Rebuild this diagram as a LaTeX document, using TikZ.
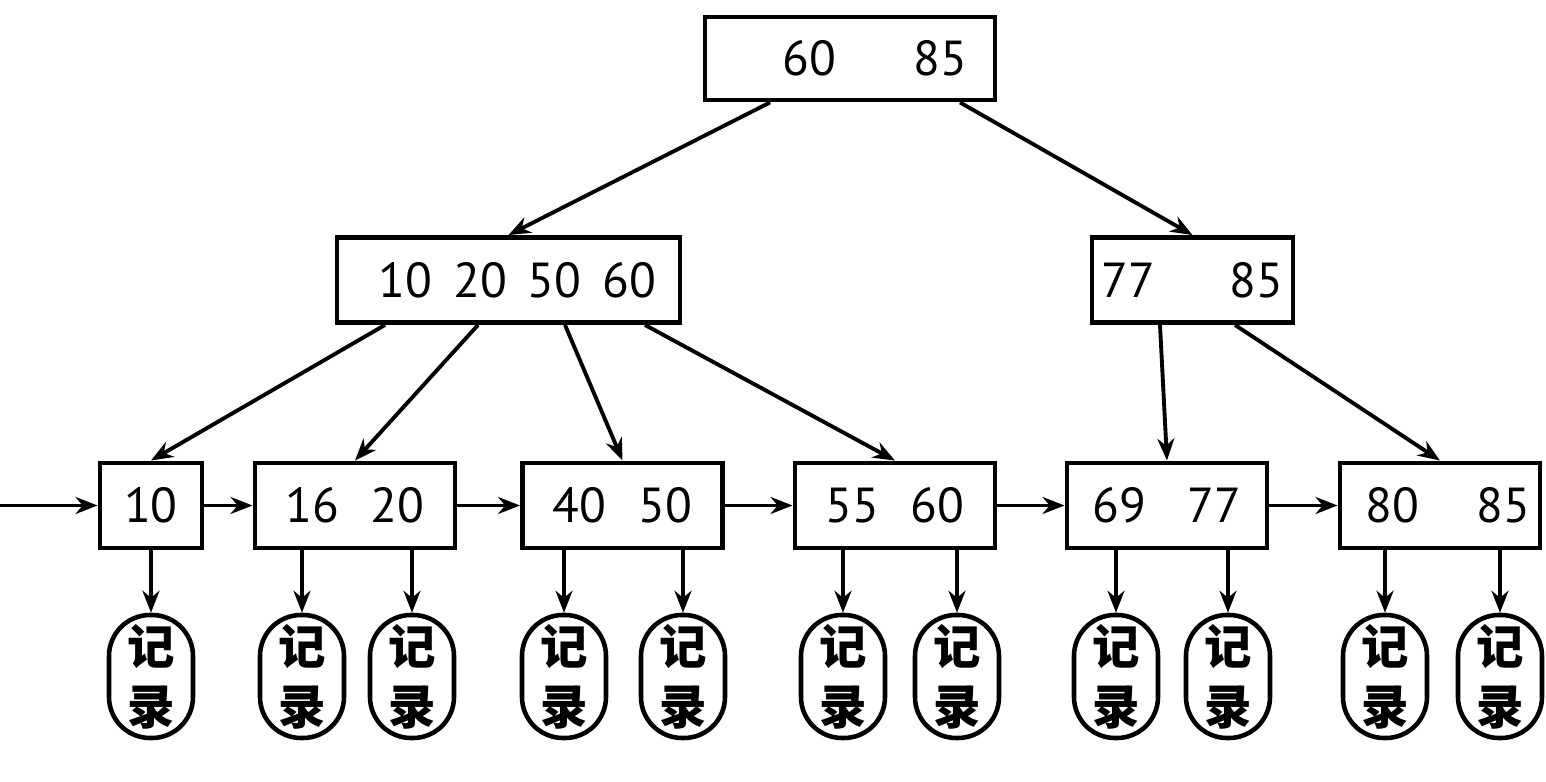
\documentclass[tikz,border=0pt]{standalone}
\usepackage{fontspec}
\setmainfont{PT Sans}
\newfontfamily\cjk{Noto Sans CJK SC}
\usetikzlibrary{positioning, calc, arrows.meta}

\begin{document}
\begin{tikzpicture}[
            key/.style={rectangle, draw, line width=1.4pt, minimum height=0.85cm, inner sep=0pt, font=\fontsize{14}{16}\selectfont},
            record/.style={rectangle, draw, line width=1.3pt, rounded corners=0.41cm, minimum width=0.84cm, minimum height=1.23cm, inner sep=0pt, align=center, font=\cjk\bfseries\fontsize{13.5}{17}\selectfont},
            link/.style={->, line width=1.1pt, >={Stealth[length=2.2mm, width=1.7mm]}}
        ]
            \useasboundingbox (0,0) rectangle (15.46,7.82);

            % --- Index Levels ---
            \node[key, minimum width=2.9cm, minimum height=0.83cm] (root) at (8.50,7.235) {\hspace{0.5cm}60\hspace{0.78cm}85};
            \node[key, minimum width=3.43cm] (midl) at (5.085,5.02) {\hspace{0.18cm}10\hspace{0.21cm}20\hspace{0.21cm}50\hspace{0.21cm}60};
            \node[key, minimum width=2.01cm] (midr) at (11.925,5.02) {77\hspace{0.74cm}85};

            % --- Leaf Level ---
            \coordinate (start) at (0,2.765);
            \node[key, minimum width=1.02cm] (leafa) at (1.51,2.765) {10};
            \node[key, minimum width=2cm] (leafb) at (3.55,2.765) {16\hspace{0.32cm}20};
            \node[key, minimum width=2cm] (leafc) at (6.225,2.765) {40\hspace{0.32cm}50};
            \node[key, minimum width=2cm] (leafd) at (8.95,2.765) {55\hspace{0.32cm}60};
            \node[key, minimum width=2cm] (leafe) at (11.67,2.765) {69\hspace{0.42cm}77};
            \node[key, minimum width=2cm] (leaff) at (14.40,2.765) {\hspace{0.16cm}80\hspace{0.58cm}85};

            % --- Tree Links ---
            \draw[link] ([xshift=-0.8cm]root.south) -- (midl.north);
            \draw[link] ([xshift=1.1cm]root.south) -- (midr.north);
            \draw[link] ([xshift=-1.235cm]midl.south) -- (leafa.north);
            \draw[link] ([xshift=-0.305cm]midl.south) -- (leafb.north);
            \draw[link] ([xshift=0.565cm]midl.south) -- (leafc.north);
            \draw[link] ([xshift=1.365cm]midl.south) -- (leafd.north);
            \draw[link] ([xshift=-0.325cm]midr.south) -- (leafe.north);
            \draw[link] ([xshift=0.425cm]midr.south) -- (leaff.north);

            % --- Leaf Chain ---
            \draw[link] (start) -- (leafa);
            \foreach \a/\b in {leafa/leafb, leafb/leafc, leafc/leafd, leafd/leafe, leafe/leaff}
              \draw[link] (\a) -- (\b);

            % Records under the leaves
            \foreach \x/\l [count=\i] in {1.51/leafa, 3.02/leafb, 4.12/leafb, 5.64/leafc, 6.83/leafc, 8.43/leafd, 9.57/leafd, 11.16/leafe, 12.28/leafe, 13.85/leaff, 15.00/leaff} {
              \node[record] (rec\i) at (\x,1.055) {记\\录};
              \draw[link] (rec\i |- \l.south) -- (rec\i.north);
            }
        \end{tikzpicture}
\end{document}
